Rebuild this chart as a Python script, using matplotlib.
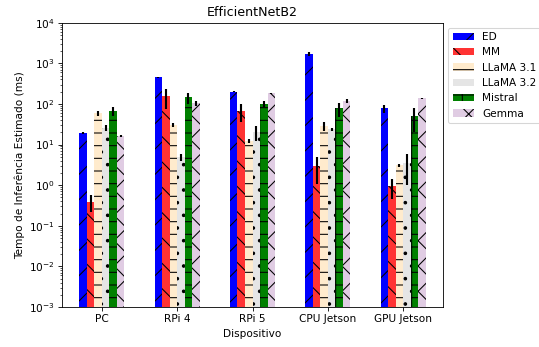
import matplotlib
matplotlib.use("Agg")
import matplotlib.pyplot as plt
import numpy as np

devices = ["PC", "RPi 4", "RPi 5", "CPU Jetson", "GPU Jetson"]
models = ["ED", "MM", "LLaMA 3.1", "LLaMA 3.2", "Mistral", "Gemma"]

ed = [19, 450, 200, 1700, 78]
ed_err = [1, 15, 8, 170, 17]
mm = [0.39, 157, 68, 2.95, 0.95]
mm_err = [0.17, 80, 33, 1.9, 0.5]
llama31 = [59, 30, 12.2, 28.6, 3.1]
llama31_err = [8, 3, 1.5, 7, 0.3]
llama32 = [26, 4.8, 20, 23.7, 3.5]
llama32_err = [5, 0.9, 8, 2, 2.5]
mistral = [68, 145, 100, 78, 50]
mistral_err = [18, 45, 15, 30, 30]
gemma = [16, 104, 182, 120, 137]
gemma_err = [1, 17, 3, 15, 4]

values = [ed, mm, llama31, llama32, mistral, gemma]
errors = [ed_err, mm_err, llama31_err, llama32_err, mistral_err, gemma_err]
colors = ["#0000ff", "#ff3333", "#ffebcd", "#e5e5e5", "#008000", "#e0cce3"]
hatches = ["/", "\\", "-", ".", "+", "x"]

plt.rcParams["hatch.color"] = "black"
plt.rcParams["hatch.linewidth"] = 1.0

DPI = 76
fig = plt.figure(figsize=(539 / DPI, 347 / DPI), dpi=DPI)
ax = fig.add_axes([62 / 539, 1 - 307 / 347, 381 / 539, 284.3 / 347])
ax.set_yscale("log")

x = np.arange(len(devices))
width = 0.1
for i, (name, vals, errs, c, h) in enumerate(zip(models, values, errors, colors, hatches)):
    ax.bar(x + (i - 2.5) * width, vals, width, yerr=errs, color=c, hatch=h,
           label=name, error_kw=dict(ecolor="black", elinewidth=2, capsize=0))

ax.set_ylim(1e-3, 1e4)
ax.set_xticks(x)
ax.set_xticklabels(devices)
ax.set_xlabel("Dispositivo")
ax.set_ylabel("Tempo de Inferência Estimado (ms)")
ax.set_title("EfficientNetB2")
ax.legend(loc="upper left", bbox_to_anchor=(1.0, 1.0))

fig.savefig("out.png", dpi=DPI)
